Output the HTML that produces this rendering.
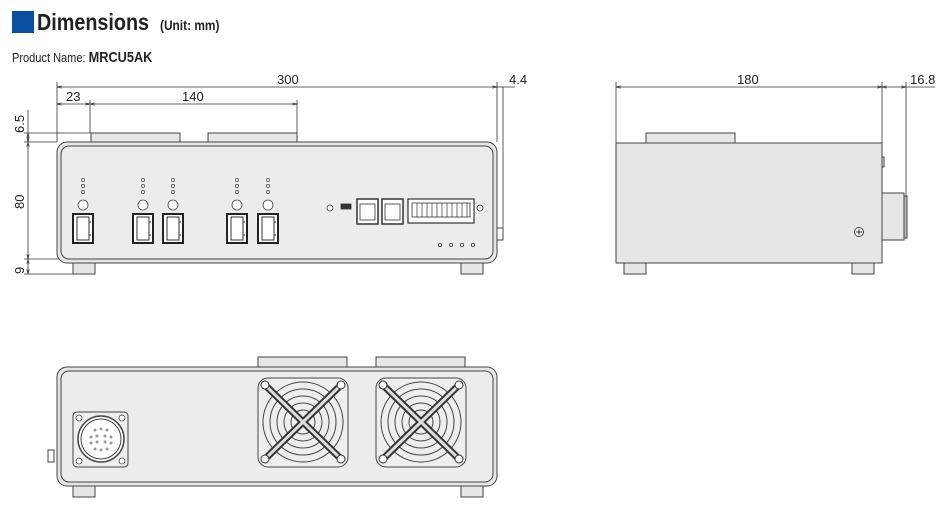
<!DOCTYPE html>
<html><head><meta charset="utf-8"><style>
html,body{margin:0;padding:0;background:#fff;width:950px;height:507px;overflow:hidden}
svg{display:block}
text{font-family:"Liberation Sans",sans-serif;fill:#222}
</style></head><body>
<svg width="950" height="507" viewBox="0 0 950 507" xmlns="http://www.w3.org/2000/svg">
<defs>
<marker id="a" markerWidth="6" markerHeight="6" refX="6" refY="3" orient="auto-start-reverse"><path d="M0,1.5 L6,3 L0,4.5" fill="none" stroke="#333" stroke-width="0.8"/></marker>
<g id="led"><circle cx="0" cy="0" r="1.6" fill="none" stroke="#444" stroke-width="0.7"/><circle cx="0" cy="6" r="1.6" fill="none" stroke="#444" stroke-width="0.7"/><circle cx="0" cy="12" r="1.6" fill="none" stroke="#444" stroke-width="0.7"/><circle cx="0" cy="25" r="5" fill="#fff" stroke="#444" stroke-width="0.8"/>
<rect x="-10" y="34" width="20" height="29" fill="#fff" stroke="#222" stroke-width="2"/><rect x="-6" y="37" width="12" height="23" fill="none" stroke="#333" stroke-width="1"/><line x1="6" y1="42" x2="8" y2="42" stroke="#333"/><line x1="6" y1="55" x2="8" y2="55" stroke="#333"/></g>
<g id="fan">
<rect x="-45" y="-44" width="90" height="89" rx="10" fill="#eee" stroke="#444"/>
<circle r="40" fill="none" stroke="#444"/><circle r="33" fill="none" stroke="#444"/><circle r="26" fill="none" stroke="#444"/><circle r="19" fill="none" stroke="#444"/><circle r="12" fill="none" stroke="#444"/>
<g stroke="#333" stroke-width="7" stroke-linecap="round"><line x1="-38" y1="-37" x2="38" y2="37"/><line x1="38" y1="-37" x2="-38" y2="37"/></g>
<g stroke="#ddd" stroke-width="3" stroke-linecap="round"><line x1="-38" y1="-37" x2="38" y2="37"/><line x1="38" y1="-37" x2="-38" y2="37"/></g>
<g fill="#fff" stroke="#333"><circle cx="-38" cy="-37" r="4"/><circle cx="38" cy="-37" r="4"/><circle cx="-38" cy="37" r="4"/><circle cx="38" cy="37" r="4"/></g>
</g>
</defs>
<rect x="12" y="11" width="22" height="22" fill="#0b4fa0"/>
<text x="37" y="30" font-size="23" font-weight="bold" transform="translate(37 0) scale(0.86 1) translate(-37 0)">Dimensions</text>
<text x="160" y="30" font-size="14" font-weight="bold" transform="translate(160 0) scale(0.85 1) translate(-160 0)">(Unit: mm)</text>
<text x="12" y="62" font-size="13" transform="translate(12 0) scale(0.85 1) translate(-12 0)">Product Name: <tspan font-weight="bold" font-size="15">MRCU5AK</tspan></text>

<g stroke="#333" stroke-width="0.8" fill="none">
<line x1="57" y1="87" x2="497" y2="87" marker-start="url(#a)" marker-end="url(#a)"/>
<line x1="497" y1="87" x2="515" y2="87"/>
<line x1="503" y1="87" x2="503" y2="228"/>
<line x1="57" y1="104" x2="90" y2="104" marker-start="url(#a)" marker-end="url(#a)"/>
<line x1="90" y1="104" x2="297" y2="104" marker-start="url(#a)" marker-end="url(#a)"/>
<line x1="57" y1="82" x2="57" y2="142"/>
<line x1="497" y1="82" x2="497" y2="142"/>
<line x1="90" y1="100" x2="90" y2="133"/>
<line x1="297" y1="100" x2="297" y2="133"/>
<line x1="24" y1="133" x2="91" y2="133"/>
<line x1="24" y1="142" x2="57" y2="142"/>
<line x1="24" y1="259" x2="61" y2="259"/>
<line x1="24" y1="274" x2="73" y2="274"/>
<line x1="28" y1="133" x2="28" y2="142" marker-start="url(#a)" marker-end="url(#a)"/>
<line x1="28" y1="142" x2="28" y2="259" marker-start="url(#a)" marker-end="url(#a)"/>
<line x1="28" y1="259" x2="28" y2="274" marker-start="url(#a)" marker-end="url(#a)"/>
<line x1="28" y1="110" x2="28" y2="133"/>
</g>
<text x="277" y="84" font-size="13">300</text>
<text x="509" y="84" font-size="13">4.4</text>
<text x="66" y="101" font-size="13">23</text>
<text x="182" y="101" font-size="13">140</text>
<text font-size="13" transform="translate(24 133) rotate(-90)">6.5</text>
<text font-size="13" transform="translate(24 209) rotate(-90)">80</text>
<text font-size="13" transform="translate(24 274) rotate(-90)">9</text>

<g stroke="#444" stroke-width="1" fill="#e6e6e6">
<rect x="91" y="133" width="89" height="10"/>
<rect x="208" y="133" width="89" height="10"/>
<rect x="73" y="263" width="22" height="11"/>
<rect x="461" y="263" width="22" height="11"/>
<rect x="497" y="228" width="6" height="12" fill="#fff"/>
<rect x="57" y="142" width="440" height="121" rx="10"/>
<rect x="61" y="146" width="432" height="113" rx="8" fill="#ececec"/>
</g>
<use href="#led" x="83" y="180"/>
<use href="#led" x="143" y="180"/>
<use href="#led" x="173" y="180"/>
<use href="#led" x="237" y="180"/>
<use href="#led" x="268" y="180"/>
<g stroke="#333" stroke-width="0.8" fill="#fff">
<circle cx="330" cy="208" r="3"/><rect x="341" y="204" width="10" height="5" fill="#333"/>
<rect x="357" y="199" width="21" height="25" stroke-width="1.5"/><rect x="382" y="199" width="21" height="25" stroke-width="1.5"/>
<rect x="360" y="204" width="15" height="16"/><rect x="385" y="204" width="15" height="16"/>
<rect x="408" y="199" width="66" height="24" stroke-width="1.2"/>
<rect x="412" y="203" width="58" height="14"/>
<circle cx="480" cy="208" r="3"/>
<circle cx="440" cy="245" r="1.6"/><circle cx="451" cy="245" r="1.6"/><circle cx="462" cy="245" r="1.6"/><circle cx="473" cy="245" r="1.6"/>
</g>
<g stroke="#333" stroke-width="0.7">
<line x1="417" y1="203" x2="417" y2="217"/><line x1="422" y1="203" x2="422" y2="217"/><line x1="427" y1="203" x2="427" y2="217"/><line x1="432" y1="203" x2="432" y2="217"/><line x1="437" y1="203" x2="437" y2="217"/><line x1="442" y1="203" x2="442" y2="217"/><line x1="447" y1="203" x2="447" y2="217"/><line x1="452" y1="203" x2="452" y2="217"/><line x1="457" y1="203" x2="457" y2="217"/><line x1="462" y1="203" x2="462" y2="217"/><line x1="467" y1="203" x2="467" y2="217"/>
</g>

<g stroke="#333" stroke-width="0.8" fill="none">
<line x1="616" y1="87" x2="882" y2="87" marker-start="url(#a)" marker-end="url(#a)"/>
<line x1="882" y1="87" x2="906" y2="87" marker-start="url(#a)" marker-end="url(#a)"/>
<line x1="906" y1="87" x2="935" y2="87"/>
<line x1="616" y1="82" x2="616" y2="143"/>
<line x1="882" y1="82" x2="882" y2="143"/>
<line x1="906" y1="82" x2="906" y2="196"/>
</g>
<text x="737" y="84" font-size="13">180</text>
<text x="910" y="84" font-size="13">16.8</text>
<g stroke="#444" stroke-width="1" fill="#e6e6e6">
<rect x="646" y="133" width="89" height="10"/>
<rect x="624" y="263" width="22" height="11"/>
<rect x="852" y="263" width="22" height="11"/>
<rect x="616" y="143" width="266" height="120"/>
<rect x="882" y="193" width="22" height="47"/>
<rect x="904" y="196" width="3" height="42" fill="#bbb"/>
<rect x="882" y="157" width="2" height="10"/>
<circle cx="859" cy="232" r="4.5" fill="#fff"/>
</g>
<path d="M856,232h6M859,229v6" stroke="#333"/>

<g stroke="#444" stroke-width="1" fill="#e6e6e6">
<rect x="258" y="357" width="89" height="10"/>
<rect x="376" y="357" width="89" height="10"/>
<rect x="73" y="486" width="22" height="11"/>
<rect x="461" y="486" width="22" height="11"/>
<rect x="48" y="450" width="6" height="12" fill="#fff"/>
<rect x="57" y="367" width="440" height="119" rx="10"/>
<rect x="61" y="371" width="432" height="111" rx="8" fill="#ececec"/>
<rect x="73" y="412" width="55" height="55" rx="4" fill="#eee"/>
<circle cx="101" cy="439" r="23" fill="#fff" stroke-width="1.5"/>
<circle cx="101" cy="439" r="20" fill="#fff"/>
</g>
<g fill="#fff" stroke="#444" stroke-width="0.8">
<circle cx="79" cy="418" r="3"/><circle cx="122" cy="418" r="3"/><circle cx="79" cy="461" r="3"/><circle cx="122" cy="461" r="3"/>
</g>
<g fill="#999">
<circle cx="95" cy="430" r="1.5"/><circle cx="101" cy="429" r="1.5"/><circle cx="107" cy="430" r="1.5"/>
<circle cx="91" cy="437" r="1.5"/><circle cx="97" cy="436" r="1.5"/><circle cx="105" cy="436" r="1.5"/><circle cx="111" cy="437" r="1.5"/>
<circle cx="91" cy="443" r="1.5"/><circle cx="97" cy="442" r="1.5"/><circle cx="105" cy="442" r="1.5"/><circle cx="111" cy="443" r="1.5"/>
<circle cx="95" cy="449" r="1.5"/><circle cx="101" cy="450" r="1.5"/><circle cx="107" cy="449" r="1.5"/>
</g>
<use href="#fan" x="303" y="422"/>
<use href="#fan" x="421" y="422"/>
</svg>
</body></html>
